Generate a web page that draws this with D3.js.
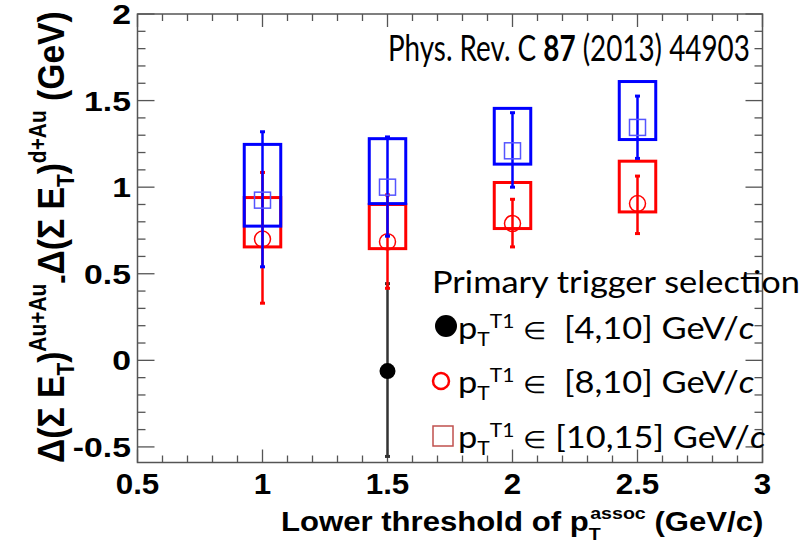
<!DOCTYPE html>
<html>
<head>
<meta charset="utf-8">
<script src="https://cdn.jsdelivr.net/npm/d3@7"></script>
<style>
  html, body { margin: 0; padding: 0; background: #fff; }
  svg { display: block; }
  .axis-num { font-family: "Liberation Sans", Arial, sans-serif; font-weight: bold; }
  .note { font-family: Lato, "Open Sans", sans-serif; }
</style>
</head>
<body>
<svg id="chart" width="808" height="550"></svg>
<script>
// Lower threshold of associated pT (GeV/c)
const thresholds = [1, 1.5, 2, 2.5];

// Trigger pT in [8,10] GeV/c: value, statistical and systematic ranges
const midVal     = [0.70, 0.685, 0.79, 0.905];
const midStatLo  = [0.33, 0.416, 0.655, 0.732];
const midStatHi  = [1.085, 0.955, 0.93, 1.064];
const midSysLo   = [0.655, 0.645, 0.761, 0.857];
const midSysHi   = [0.94, 0.90, 1.027, 1.15];

// Trigger pT in [10,15] GeV/c
const highVal    = [0.925, 1.0, 1.21, 1.345];
const highStatLo = [0.54, 0.717, 1.0, 1.166];
const highStatHi = [1.32, 1.29, 1.43, 1.526];
const highSysLo  = [0.775, 0.905, 1.133, 1.275];
const highSysHi  = [1.247, 1.28, 1.455, 1.61];

// Trigger pT in [4,10] GeV/c
const lowX       = [1.5];
const lowVal     = [-0.062];
const lowStatLo  = [-0.555];
const lowStatHi  = [0.443];

const xTickVals = [0.5, 1, 1.5, 2, 2.5, 3];
const xTickText = ["0.5", "1", "1.5", "2", "2.5", "3"];
const yTickVals = [-0.5, 0, 0.5, 1, 1.5, 2];
const yTickText = ["-0.5", "0", "0.5", "1", "1.5", "2"];

const svg = d3.select("#chart");
const frame = { left: 137.5, right: 762.5, top: 14, bottom: 462.5 };
const x = d3.scaleLinear().domain([0.5, 3]).range([frame.left, frame.right]);
const y = d3.scaleLinear().domain([-0.59, 2]).range([frame.bottom, frame.top]);
const SX = 1.25;          // horizontal stretch of axis glyphs
const boxHalf = 0.073;    // half width of systematic boxes in x units

// ---- frame and ticks on all four sides ----
const frameColor = "#555";
svg.append("rect")
  .attr("x", frame.left).attr("y", frame.top)
  .attr("width", frame.right - frame.left).attr("height", frame.bottom - frame.top)
  .attr("fill", "none").attr("stroke", frameColor).attr("stroke-width", 1.5);

const xMinor = d3.range(0.5, 3.0001, 0.1).map(v => +v.toFixed(2));
const yMinor = d3.range(-0.5, 2.0001, 0.1).map(v => +v.toFixed(2));
const isMajor = v => Math.abs(v * 2 - Math.round(v * 2)) < 1e-6;
const ticks = svg.append("g").attr("stroke", frameColor).attr("stroke-width", 1.3);
xMinor.forEach(v => {
  const len = isMajor(v) ? 13 : 7;
  ticks.append("line").attr("x1", x(v)).attr("x2", x(v))
    .attr("y1", frame.bottom).attr("y2", frame.bottom - len);
  ticks.append("line").attr("x1", x(v)).attr("x2", x(v))
    .attr("y1", frame.top).attr("y2", frame.top + len);
});
yMinor.forEach(v => {
  const len = isMajor(v) ? 17 : 8;
  ticks.append("line").attr("y1", y(v)).attr("y2", y(v))
    .attr("x1", frame.left).attr("x2", frame.left + len);
  ticks.append("line").attr("y1", y(v)).attr("y2", y(v))
    .attr("x1", frame.right).attr("x2", frame.right - len);
});

// ---- tick labels ----
xTickVals.forEach((v, i) => {
  svg.append("text").attr("class", "axis-num")
    .attr("transform", `translate(${x(v)},494) scale(1.08,1)`)
    .attr("text-anchor", "middle").attr("font-size", 29)
    .text(xTickText[i]);
});
yTickVals.forEach((v, i) => {
  svg.append("text").attr("class", "axis-num")
    .attr("transform", `translate(131,${y(v) + 10}) scale(${SX},1)`)
    .attr("text-anchor", "end").attr("font-size", 27)
    .text(yTickText[i]);
});

// Stretch a text element along its own length so it spans `target` px
function fitAlong(node, target, cross) {
  const w = node.getBBox().width;
  return `scale(${target / w},${cross})`;
}

// ---- x axis title ----
{
  const g = svg.append("g");
  const t = g.append("text").attr("class", "axis-num").attr("font-size", 27);
  t.append("tspan").text("Lower threshold of p");
  t.append("tspan").attr("font-size", 17).attr("dy", 9).text("T");
  t.append("tspan").attr("font-size", 17).attr("dx", -9).attr("dy", -21).text("assoc");
  t.append("tspan").attr("dy", 12).text(" (GeV/c)");
  const s = fitAlong(t.node(), 481, 1);
  g.attr("transform", `translate(281,531) ${s}`);
}

// ---- y axis title (rotated) ----
{
  const g = svg.append("g");
  const t = g.append("text").attr("class", "axis-num").attr("font-size", 29);
  t.append("tspan").text("\u0394(\u03A3 E");
  t.append("tspan").attr("font-size", 18).attr("dy", 8).text("T");
  t.append("tspan").attr("dy", -8).text(")");
  t.append("tspan").attr("font-size", 18).attr("dy", -14).text("Au+Au");
  t.append("tspan").attr("font-size", 24).attr("dy", 19).text("-");
  t.append("tspan").attr("dy", -5).text("\u0394(\u03A3 E");
  t.append("tspan").attr("font-size", 18).attr("dy", 8).text("T");
  t.append("tspan").attr("dy", -8).text(")");
  t.append("tspan").attr("font-size", 18).attr("dy", -14).text("d+Au");
  t.append("tspan").attr("dy", 14).text(" (GeV)");
  const s = fitAlong(t.node(), 452, 1.3);
  g.attr("transform", `translate(64,463) rotate(-90) ${s}`);
}

// ---- systematic boxes ----
function sysBoxes(lo, hi, color) {
  svg.append("g").selectAll("rect").data(thresholds).join("rect")
    .attr("x", d => x(d - boxHalf)).attr("width", d => x(d + boxHalf) - x(d - boxHalf))
    .attr("y", (d, i) => y(hi[i])).attr("height", (d, i) => y(lo[i]) - y(hi[i]))
    .attr("fill", "none").attr("stroke", color).attr("stroke-width", 3);
}
sysBoxes(midSysLo, midSysHi, "#ff0000");
sysBoxes(highSysLo, highSysHi, "#0000ff");

// ---- statistical error bars ----
function statBars(xs, lo, hi, color, w) {
  const g = svg.append("g").attr("stroke", color).attr("stroke-width", w);
  xs.forEach((d, i) => {
    g.append("line").attr("x1", x(d)).attr("x2", x(d)).attr("y1", y(lo[i])).attr("y2", y(hi[i]));
    [lo[i], hi[i]].forEach(v => {
      g.append("line").attr("x1", x(d) - 2.5).attr("x2", x(d) + 2.5)
        .attr("y1", y(v)).attr("y2", y(v)).attr("stroke-width", 3);
    });
  });
}

statBars(lowX, lowStatLo, lowStatHi, "#333", 2.5);
statBars(thresholds, midStatLo, midStatHi, "#ff0000", 2.5);
svg.append("g").selectAll("circle").data(thresholds).join("circle")
  .attr("cx", d => x(d)).attr("cy", (d, i) => y(midVal[i])).attr("r", 8)
  .attr("fill", "none").attr("stroke", "#ff0000").attr("stroke-width", 1.5);

statBars(thresholds, highStatLo, highStatHi, "#0000ff", 2.5);
svg.append("g").selectAll("rect").data(thresholds).join("rect")
  .attr("x", d => x(d) - 8).attr("y", (d, i) => y(highVal[i]) - 8)
  .attr("width", 16).attr("height", 16)
  .attr("fill", "none").attr("stroke", "#5555ff").attr("stroke-width", 1.5);

svg.append("g").selectAll("circle").data(lowX).join("circle")
  .attr("cx", d => x(d)).attr("cy", (d, i) => y(lowVal[i])).attr("r", 8)
  .attr("fill", "#000");

// ---- publication reference ----
{
  const g = svg.append("g");
  const t = g.append("text").attr("class", "note").attr("font-size", 36);
  t.append("tspan").text("Phys. Rev. C ");
  t.append("tspan").attr("font-weight", "bold").text("87");
  t.append("tspan").text(" (2013) 44903");
  const s = fitAlong(t.node(), 362, 1);
  g.attr("transform", `translate(388,61) ${s}`);
}

// ---- legend ----
const legendRows = [
  { range: "[4,10] GeV/", gap: "  ", y: 339 },
  { range: "[8,10] GeV/", gap: "  ", y: 393 },
  { range: "[10,15] GeV/", gap: " ", y: 448 }
];
let legScale = 1;
{
  const g = svg.append("g");
  const t = g.append("text").attr("class", "note").attr("font-size", 31)
    .text("Primary trigger selection");
  const w = t.node().getBBox().width;
  legScale = 368 / w;
  g.attr("transform", `translate(432,293) scale(${legScale},1)`);
}
legendRows.forEach(r => {
  const g = svg.append("g").attr("transform", `translate(458,${r.y}) scale(${legScale},1)`);
  const t = g.append("text").attr("class", "note").attr("font-size", 31)
    .attr("xml:space", "preserve").style("white-space", "pre");
  t.append("tspan").text("p");
  t.append("tspan").attr("font-size", 19).attr("dy", 7).text("T");
  t.append("tspan").attr("font-size", 19).attr("dy", -18).text("T1");
  t.append("tspan").attr("dy", 11).text(" ");
  t.append("tspan").attr("font-size", 24).text("\u2208");
  t.append("tspan").text(r.gap + r.range);
  t.append("tspan").attr("font-style", "italic").text("c");
});
svg.append("circle").attr("cx", 446).attr("cy", 326).attr("r", 11).attr("fill", "#000");
svg.append("circle").attr("cx", 441).attr("cy", 381).attr("r", 8)
  .attr("fill", "none").attr("stroke", "#ff0000").attr("stroke-width", 2.5);
svg.append("rect").attr("x", 433).attr("y", 426).attr("width", 20).attr("height", 20)
  .attr("fill", "none").attr("stroke", "#c0504d").attr("stroke-width", 1.5);
</script>
</body>
</html>
